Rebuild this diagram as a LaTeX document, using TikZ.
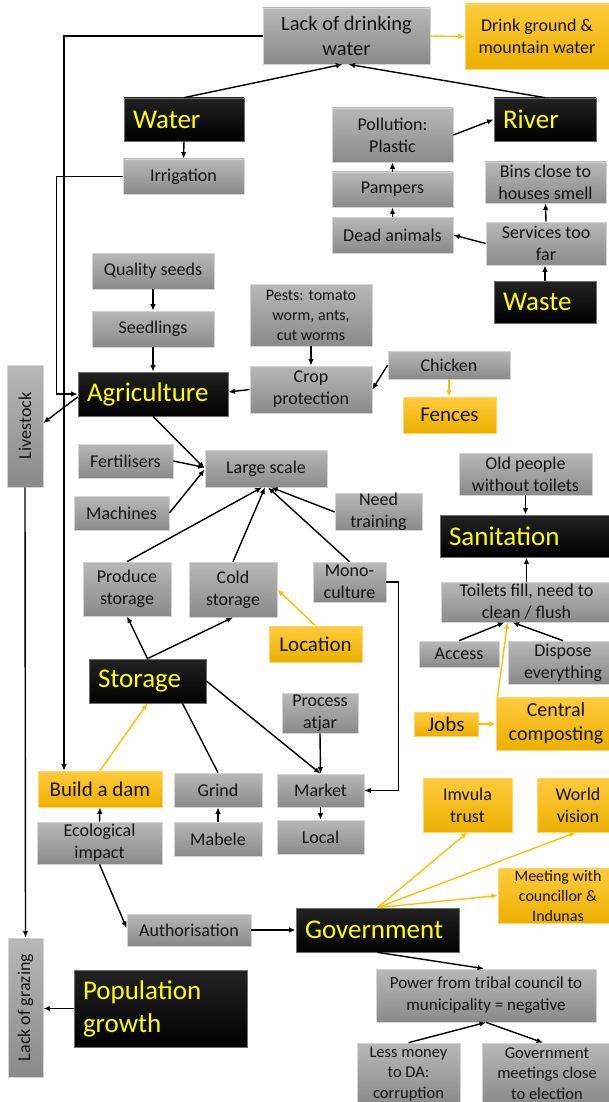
\documentclass[tikz,border=0pt]{standalone}
\usepackage{fontspec}
\setmainfont{Carlito}
\usepackage{graphicx}
\usetikzlibrary{arrows.meta}
\definecolor{gtop}{RGB}{184,184,184}
\definecolor{gbot}{RGB}{138,138,138}
\definecolor{gbord}{RGB}{212,212,212}
\definecolor{ytop}{RGB}{255,203,60}
\definecolor{ybot}{RGB}{236,176,0}
\definecolor{ybord}{RGB}{255,214,110}
\definecolor{yline}{RGB}{255,192,0}
\definecolor{btxt}{RGB}{255,255,0}
\definecolor{bktop}{RGB}{34,34,34}
\definecolor{bbord}{RGB}{110,110,110}
\definecolor{txt}{RGB}{20,20,20}
\newcommand\mkbox[7]{%
 \pgfmathsetmacro\mybw{#5-#3}\pgfmathsetmacro\mybh{#6-#4}%
 \pgfmathsetmacro\mycx{(#3+#5)/2}\pgfmathsetmacro\mycy{(#4+#6)/2}%
 \node[#1, minimum width=\mybw pt, minimum height=\mybh pt] (#2) at (\mycx,\mycy) {#7};}
\newcommand\mkblack[7]{%
 \pgfmathsetmacro\mytw{#5-#3-18}\pgfmathsetmacro\mybh{#6-#4}%
 \pgfmathsetmacro\mycx{(#3+#5)/2}\pgfmathsetmacro\mycy{(#4+#6)/2}%
 \node[#1, text width=\mytw pt, inner xsep=9pt, minimum height=\mybh pt] (#2) at (\mycx,\mycy) {#7};}
\tikzset{
 base/.style={inner xsep=2pt, inner ysep=0pt, align=center, text=txt, line width=0.7pt},
 gbox/.style={base, draw=gbord, top color=gtop, bottom color=gbot, font=\fontsize{18}{22}\selectfont},
 ybox/.style={base, draw=ybord, top color=ytop, bottom color=ybot, font=\fontsize{18}{22}\selectfont},
 bbox/.style={inner ysep=0pt, align=left, text=btxt, draw=bbord, line width=0.7pt, top color=bktop, bottom color=black, font=\fontsize{27}{33}\selectfont},
 arr/.style={-{Latex[length=6.5pt,width=5.5pt]}, line width=1.4pt, draw=black},
 yarr/.style={arr, draw=yline, -{Latex[length=6.5pt,width=5.5pt,fill=yline]}},
 plainline/.style={line width=1.4pt, draw=black},
}
\begin{document}
\begin{tikzpicture}[x=1pt,y=-1pt]
\useasboundingbox (0,0) rectangle (609,1102);
\fill[white] (0,0) rectangle (609,1102);
% gray boxes
\mkbox{gbox,font=\fontsize{20.5}{25}\selectfont}{Lack}{263}{8}{430}{64}{Lack of drinking\\water}
\mkbox{gbox}{Irr}{123}{159}{244}{194}{Irrigation}
\mkbox{gbox}{Poll}{332}{108}{453}{162}{Pollution:\\Plastic}
\mkbox{gbox}{Pamp}{332}{172}{453}{207}{Pampers}
\mkbox{gbox}{Dead}{332}{217}{453}{253}{Dead animals}
\mkbox{gbox}{Bins}{485}{162}{606}{203}{Bins close to\\houses smell}
\mkbox{gbox}{Serv}{486}{222}{606}{265}{Services too\\far}
\mkbox{gbox}{QS}{92}{253}{214}{289}{Quality seeds}
\mkbox{gbox}{Seed}{92}{311}{214}{347}{Seedlings}
\mkbox{gbox,font=\fontsize{16}{20}\selectfont}{Pests}{250}{284}{372}{346}{Pests: tomato\\worm, ants,\\cut worms}
\mkbox{gbox}{Crop}{250}{366}{372}{413}{Crop\\protection}
\mkbox{gbox}{Chick}{388}{351}{510}{379}{Chicken}
\mkbox{gbox}{Fert}{78}{444}{173}{478}{Fertilisers}
\mkbox{gbox}{Mach}{74}{496}{169}{530}{Machines}
\mkbox{gbox}{Large}{205}{450}{327}{487}{Large scale}
\mkbox{gbox}{Need}{335}{494}{422}{530}{Need\\training}
\mkbox{gbox}{Old}{459}{453}{592}{495}{Old people\\without toilets}
\mkbox{gbox}{Prod}{83}{562}{171}{616}{Produce\\storage}
\mkbox{gbox}{Cold}{189}{562}{277}{617}{Cold\\storage}
\mkbox{gbox}{Mono}{313}{562}{386}{602}{Mono-\\culture}
\mkbox{gbox}{Toil}{441}{582}{612}{622}{Toilets fill, need to\\clean / flush}
\mkbox{gbox}{Acc}{419}{641}{499}{667}{Access}
\mkbox{gbox}{Disp}{508}{641}{618}{684}{Dispose\\everything}
\mkbox{gbox}{Proc}{282}{693}{358}{733}{Process\\atjar}
\mkbox{gbox}{Grind}{174}{773}{262}{807}{Grind}
\mkbox{gbox}{Market}{277}{774}{364}{807}{Market}
\mkbox{gbox}{Eco}{37}{822}{162}{864}{Ecological\\impact}
\mkbox{gbox}{Mab}{174}{822}{262}{856}{Mabele}
\mkbox{gbox}{Local}{277}{820}{364}{854}{Local}
\mkbox{gbox}{Auth}{127}{914}{251}{946}{Authorisation}
\mkbox{gbox,font=\fontsize{17}{22}\selectfont}{Power}{376}{969}{596}{1022}{Power from tribal council to\\municipality = negative}
\mkbox{gbox,font=\fontsize{16.5}{20.5}\selectfont}{Less}{357}{1043}{460}{1105}{Less money\\to DA:\\corruption}
\mkbox{gbox,font=\fontsize{16.5}{20.5}\selectfont}{GovM}{482}{1043}{612}{1104}{Government\\meetings close\\to election}
\node[gbox, minimum width=36pt, minimum height=122pt] (Live) at (25,426) {\rotatebox{90}{Livestock}};
\node[gbox, minimum width=35pt, minimum height=139pt] (Graz) at (25.5,1007.5) {\rotatebox{90}{Lack of grazing}};
% yellow boxes
\mkbox{ybox}{Drink}{465}{4}{609}{69}{Drink ground \&\\mountain water}
\mkbox{ybox,font=\fontsize{21}{25}\selectfont}{Fences}{403}{397}{496}{433}{Fences}
\mkbox{ybox,font=\fontsize{21}{25}\selectfont}{Loc}{269}{626}{362}{662}{Location}
\mkbox{ybox,font=\fontsize{21}{25}\selectfont}{Jobs}{414}{712}{478}{736}{Jobs}
\mkbox{ybox,font=\fontsize{20}{24}\selectfont}{Cent}{496}{697}{616}{750}{Central\\composting}
\mkbox{ybox,font=\fontsize{21}{25}\selectfont}{Dam}{38}{771}{162}{807}{Build a dam}
\mkbox{ybox}{Imv}{423}{778}{512}{832}{Imvula\\trust}
\mkbox{ybox}{World}{537}{778}{619}{832}{World\\vision}
\mkbox{ybox,font=\fontsize{16}{20}\selectfont}{Meet}{498}{868}{618}{923}{Meeting with\\councillor \&\\Indunas}
% black boxes
\mkblack{bbox}{Water}{124}{98}{244}{141}{Water}
\mkblack{bbox}{River}{494}{98}{596}{141}{River}
\mkblack{bbox}{Waste}{494}{281}{596}{323}{Waste}
\mkblack{bbox}{Agri}{78}{372}{228}{416}{Agriculture}
\mkblack{bbox}{San}{440}{515}{610}{557}{Sanitation}
\mkblack{bbox}{Storage}{89}{659}{206}{703}{Storage}
\mkblack{bbox}{Gov}{296}{908}{459}{952}{Government}
\mkblack{bbox}{Pop}{74}{970}{247}{1047}{Population\\growth}
% connectors
\draw[arr] (Water.north) -- ([xshift=-4pt]Lack.south);
\draw[arr] (River.north) -- ([xshift=2pt]Lack.south);
\draw[yarr] (Lack.east) -- (Drink.west);
\draw[arr] (Lack.west) -| ([xshift=-36pt]Dam.north);
\draw[arr] (Irr.west) -| ([xshift=-21pt]Agri.west) -- (Agri.west);
\draw[arr] (Water.south) -- (Irr.north);
\draw[arr] (Live.south) -- (Graz.north);
\draw[arr] ([yshift=-3pt]Agri.west) -- ([yshift=3pt]Live.east);
\draw[arr] (QS.south) -- (Seed.north);
\draw[arr] (Seed.south) -- (Seed.south |- Agri.north);
\draw[arr] (Pests.south) -- (Crop.north);
\draw[arr] (Crop.west) -- ([yshift=2pt]Agri.east);
\draw[arr] (Chick.west) -- (Crop.east);
\draw[yarr] (Chick.south) -- (Chick.south |- Fences.north);
\draw[arr] (Agri.south) -- (Large.west);
\draw[arr] (Fert.east) -- ([yshift=1pt]Large.west);
\draw[arr] (Mach.east) -- ([yshift=-1pt]Large.west);
\draw[arr] (Prod.north) -- ([xshift=-4pt]Large.south);
\draw[arr] (Cold.north) -- ([xshift=-1pt]Large.south);
\draw[arr] (Mono.north) -- ([xshift=2pt]Large.south);
\draw[arr] (Need.west) -- ([xshift=5pt]Large.south);
\draw[arr] (Storage.north) -- (Prod.south);
\draw[arr] (Storage.north) -- (Cold.south);
\draw[yarr] (Loc.north) -- (Cold.east);
\draw[arr] (Mono.east) -| ([xshift=34pt]Market.east) -- (Market.east);
\draw[arr] (Storage.east) -- (Market.north);
\draw[arr] (Proc.south) -- (Market.north);
\draw[plainline] (Grind.north) -- ([xshift=35pt]Storage.south);
\draw[yarr] (Dam.north) -- (Storage.south);
\draw[arr] (Mab.north) -- (Grind.south);
\draw[arr] (Market.south) -- (Local.north);
\draw[arr] (Eco.north) -- (Dam.south);
\draw[arr] (Eco.south) -- ([yshift=2pt]Auth.west);
\draw[arr] (Auth.east) -- (Gov.west);
\draw[yarr] (Gov.north) -- (Imv.south);
\draw[yarr] (Gov.north) -- ([xshift=-2pt]World.south);
\draw[yarr] (Gov.north) -- (Meet.west);
\draw[arr] (Gov.south) -- ([xshift=-2pt]Power.north);
\draw[arr] (Less.north) -- (Power.south);
\draw[arr] (Power.south) -- ([xshift=-4pt]GovM.north);
\draw[arr] (Pop.west) -- (Pop.west -| Graz.east);
\draw[arr] (Old.south) -- (Old.south |- San.north);
\draw[arr] (Toil.north) -- (Toil.north |- San.south);
\draw[arr] (Acc.north) -- ([xshift=-22pt]Toil.south);
\draw[arr] (Disp.north) -- ([xshift=-14pt]Toil.south);
\draw[yarr] ([xshift=2pt]Cent.north west) -- ([xshift=-19pt]Toil.south);
\draw[yarr] (Jobs.east) -- (Jobs.east -| Cent.west);
\draw[arr] (Poll.east) -- (River.west);
\draw[arr] (Pamp.north) -- (Poll.south);
\draw[arr] (Dead.north) -- (Pamp.south);
\draw[arr] (Serv.west) -- (Dead.east);
\draw[arr] (Serv.north) -- (Bins.south);
\draw[arr] (Waste.north) -- (Waste.north |- Serv.south);
\end{tikzpicture}
\end{document}
